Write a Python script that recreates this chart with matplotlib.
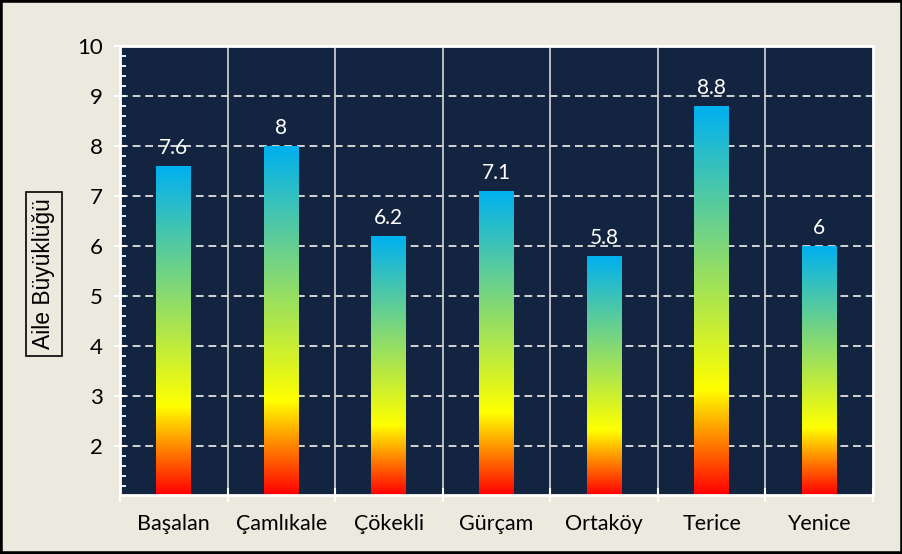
import numpy as np
import matplotlib
matplotlib.use("Agg")
import matplotlib.pyplot as plt
from matplotlib.colors import LinearSegmentedColormap
from matplotlib.patches import Rectangle

villages = ["Başalan", "Çamlıkale", "Çökekli", "Gürçam", "Ortaköy", "Terice", "Yenice"]
family_size = [7.6, 8, 6.2, 7.1, 5.8, 8.8, 6]
value_labels = ["7.6", "8", "6.2", "7.1", "5.8", "8.8", "6"]
y_ticks = [2, 3, 4, 5, 6, 7, 8, 9, 10]

bg = "#ECE9DF"
navy = "#12243F"
ymin, ymax = 1.02, 10

cmap = LinearSegmentedColormap.from_list(
    "bar", [(0, "#FF0000"), (0.27, "#FFFF00"), (1, "#00B0F0")])

fig = plt.figure(figsize=(9.03, 5.54), dpi=100, facecolor=bg)
ax = fig.add_axes([120 / 903, 1 - 495 / 554, 753 / 903, 449 / 554])
ax.set_facecolor(navy)

x = np.arange(len(villages))
width = 0.325

# grid
for t in y_ticks[:-1]:
    ax.axhline(t, color="#D4D4D4", lw=1.4, ls=(0, (4, 2.5)), zorder=1)
for s in np.arange(0.5, len(villages) - 0.5, 1):
    ax.axvline(s, color="#C8C8C8", lw=1.3, zorder=1)

# gradient bars
bars = ax.bar(x, np.array(family_size) - ymin, bottom=ymin, width=width,
              color="none", zorder=2)
grad = np.linspace(0, 1, 256).reshape(-1, 1)
for b in bars:
    x0, y0 = b.get_x(), b.get_y()
    x1, y1 = x0 + b.get_width(), y0 + b.get_height()
    ax.imshow(grad, cmap=cmap, origin="lower", aspect="auto",
              extent=(x0, x1, y0, y1), zorder=2, interpolation="bilinear")
ax.set_xlim(-0.5, len(villages) - 0.5)
ax.set_ylim(ymin, ymax)

for xi, v, lab in zip(x, family_size, value_labels):
    ax.annotate(lab, (xi, v), xytext=(0, 6), textcoords="offset points",
                ha="center", va="bottom", color="white", fontsize=15,
                family="Lato", zorder=3)

for sp in ax.spines.values():
    sp.set_color("white")
    sp.set_linewidth(2)

ax.set_yticks(y_ticks)
ax.set_yticks(np.arange(1.2, 10, 0.2), minor=True)
ax.set_xticks(x)
ax.set_xticklabels(villages)
ax.set_xticks(np.arange(-0.5, len(villages), 1), minor=True)
ax.tick_params(axis="y", which="major", direction="inout", length=9, width=1.5,
               color="white", pad=8, labelsize=16)
ax.tick_params(axis="y", which="minor", direction="in", length=4, width=1.3,
               color="white")
ax.tick_params(axis="x", which="major", direction="in", length=5, width=1.5,
               color="white", pad=14, labelsize=15.5)
ax.tick_params(axis="x", which="minor", direction="inout", length=10, width=1.5,
               color="white")
for lab in ax.get_xticklabels() + ax.get_yticklabels():
    lab.set_family("Lato")

fig.text(44 / 903, 1 - 274 / 554, "Aile Büyüklüğü", rotation=90,
         ha="center", va="center", fontsize=16.5, family="Liberation Sans",
         bbox=dict(boxstyle="square,pad=0.3", fc="none", ec="black", lw=1.2))

fig.patches.append(Rectangle((0, 0), 1, 1, transform=fig.transFigure,
                             fill=False, ec="black", lw=4))

fig.savefig("out.png", dpi=100, facecolor=bg)
